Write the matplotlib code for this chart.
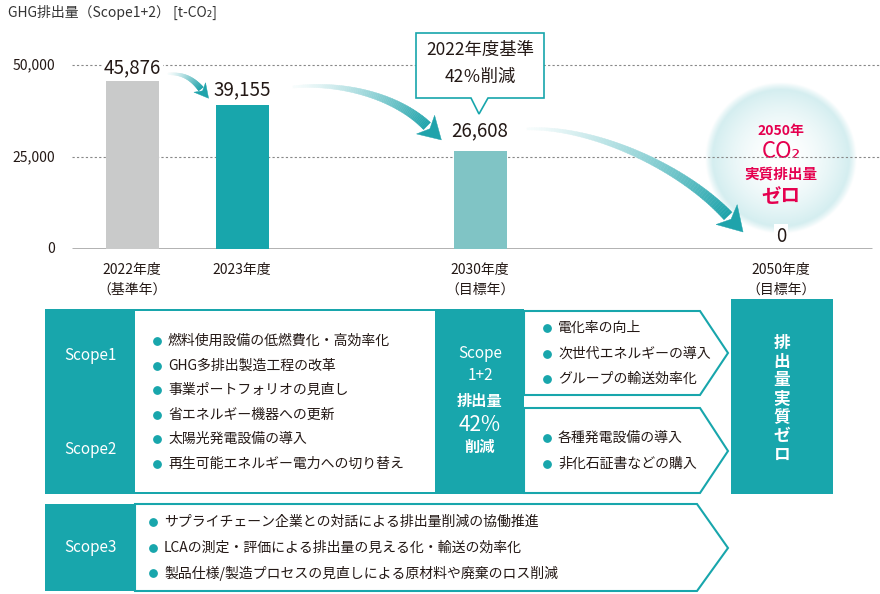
import numpy as np
import matplotlib
matplotlib.use('Agg')
import matplotlib.pyplot as plt
from matplotlib.patches import Polygon, Rectangle

plt.rcParams['font.family'] = ['Noto Sans CJK JP', 'DejaVu Sans']

# data
years = ['2022年度', '2023年度', '2030年度', '2050年度']
year_notes = ['（基準年）', '', '（目標年）', '（目標年）']
emissions = [45876, 39155, 26608, 0]
yticks = [0, 25000, 50000]

scope12_items = ['燃料使用設備の低燃費化・高効率化', 'GHG多排出製造工程の改革',
                 '事業ポートフォリオの見直し', '省エネルギー機器への更新',
                 '太陽光発電設備の導入', '再生可能エネルギー電力への切り替え']
cut_top_items = ['電化率の向上', '次世代エネルギーの導入', 'グループの輸送効率化']
cut_bottom_items = ['各種発電設備の導入', '非化石証書などの購入']
scope3_items = ['サプライチェーン企業との対話による排出量削減の協働推進',
                'LCAの測定・評価による排出量の見える化・輸送の効率化',
                '製品仕様/製造プロセスの見直しによる原材料や廃棄のロス削減']

# layout / style
bar_x = [132, 242, 480, 781]
bar_colors = ['#c9caca', '#18a6ac', '#80c4c5', '#80c4c5']
label_dy = [12, 15, 20, 13]
TEAL = '#18a6ac'
DARK = '#231815'
RED = '#e5004f'

fig = plt.figure(figsize=(8.8, 5.94), dpi=100)

# pixel-coordinate background layer
lay = fig.add_axes([0, 0, 1, 1], zorder=0)
lay.set_xlim(0, 880); lay.set_ylim(594, 0); lay.axis('off')

# chart layer (baseline at y=249px, 25,000 per 92px)
ax = fig.add_axes([0, (594 - 249) / 594, 1, 249 / 594], zorder=1)
ax.set_xlim(0, 880); ax.set_ylim(0, 249 * 25000 / 92)
ax.axis('off'); ax.patch.set_visible(False)

# top layer for arrows / callout
top = fig.add_axes([0, 0, 1, 1], zorder=2)
top.set_xlim(0, 880); top.set_ylim(594, 0); top.axis('off')
top.patch.set_visible(False)

# soft circle for 2050
yy, xx = np.mgrid[-1:1:300j, -1:1:300j]
r = np.sqrt(xx ** 2 + yy ** 2)
edge = np.array([0.80, 0.92, 0.93])
mix = np.clip(r, 0, 1) ** 1.8
rgba = np.zeros((300, 300, 4))
for k in range(3):
    rgba[..., k] = 1 - (1 - edge[k]) * mix
rgba[..., 3] = np.clip((1 - r) / 0.1, 0, 1)
lay.imshow(rgba, extent=(705, 857, 234, 82), interpolation='bilinear', aspect='auto')
lay.set_xlim(0, 880); lay.set_ylim(594, 0)

# title
lay.text(8, 12, 'GHG排出量（Scope1+2） [t-CO₂]', fontsize=10, color='#333333', va='center')

# grid + baseline
ax.hlines([25000, 50000], 72, 880, colors='#888888', linestyles=(0, (2, 2)), lw=0.8)
ax.hlines(0, 72, 872, colors='#9a9a9a', lw=1.8)
for v in yticks:
    ax.text(55, v, f'{v:,}', ha='right', va='center', fontsize=10, color=DARK)

ax.bar(bar_x, emissions, width=53, color=bar_colors, zorder=2)
for x, v, dy in zip(bar_x, emissions, label_dy):
    ax.annotate(f'{v:,}', (x, v), xytext=(0, dy), textcoords='offset pixels',
                ha='center', va='center', fontsize=13.5, color=DARK, zorder=4,
                bbox=dict(boxstyle='square,pad=0.1', fc='white', ec='none'))
for x, yr, note in zip(bar_x, years, year_notes):
    ax.annotate(yr, (x, 0), xytext=(0, -21), textcoords='offset pixels',
                ha='center', va='center', fontsize=10, color=DARK)
    if note:
        ax.annotate(note, (x, 0), xytext=(0, -41), textcoords='offset pixels',
                    ha='center', va='center', fontsize=10, color=DARK)


def grad_arrow(a, p0, c1, c2, p1, w0, w1, hw, hl, n=80):
    p0, c1, c2, p1 = map(np.array, (p0, c1, c2, p1))
    t = np.linspace(0, 1, n)[:, None]
    pts = (1 - t) ** 3 * p0 + 3 * (1 - t) ** 2 * t * c1 + 3 * (1 - t) * t ** 2 * c2 + t ** 3 * p1
    tan = 3 * (1 - t) ** 2 * (c1 - p0) + 6 * (1 - t) * t * (c2 - c1) + 3 * t ** 2 * (p1 - c2)
    tan = tan / np.linalg.norm(tan, axis=1, keepdims=True)
    nrm = np.column_stack([-tan[:, 1], tan[:, 0]])
    w = (w0 + (w1 - w0) * t[:, 0])[:, None] / 2
    left, right = pts + nrm * w, pts - nrm * w
    c_start = np.array([0.97, 0.99, 0.99])
    c_end = np.array([0.12, 0.64, 0.67])
    for i in range(n - 1):
        f = (i / (n - 2)) ** 1.3
        col = c_start + (c_end - c_start) * f
        quad = [left[i], left[i + 1], right[i + 1], right[i]]
        a.add_patch(Polygon(quad, closed=True, fc=col, ec=col, lw=0.3, zorder=3))
    d = tan[-1]; nv = nrm[-1]
    tip = p1 + d * hl
    head = [p1 + nv * hw / 2 - d * 2, tip, p1 - nv * hw / 2 - d * 2, p1 + d * hl * 0.2]
    a.add_patch(Polygon(head, closed=True, fc=c_end, ec=c_end, lw=0.3, zorder=4))


grad_arrow(top, (168, 74), (182, 73), (192, 78), (201, 89), 1.5, 6, 15, 12)
grad_arrow(top, (293, 87), (340, 82), (395, 95), (427, 126), 2, 10, 26, 20)
grad_arrow(top, (527, 129), (590, 126), (680, 165), (728, 216), 2, 11, 29, 22)

# callout
call = [(416, 33), (544, 33), (544, 98), (488, 98), (479, 114), (471, 98), (416, 98)]
top.add_patch(Polygon(call, closed=True, fc='white', ec=TEAL, lw=1.2, zorder=5))
top.text(480, 50, '2022年度基準', ha='center', va='center', fontsize=12.5, color=DARK, zorder=6)
top.text(480, 77, '42％削減', ha='center', va='center', fontsize=12.5, color=DARK, zorder=6)

# 2050 circle text
lay.text(781, 131, '2050年', ha='center', va='center', fontsize=10, color=RED, fontweight='bold')
lay.text(781, 152, 'CO₂', ha='center', va='center', fontsize=16, color=RED)
lay.text(781, 173, '実質排出量', ha='center', va='center', fontsize=10.5, color=RED, fontweight='bold')
lay.text(781, 196, 'ゼロ', ha='center', va='center', fontsize=14, color=RED, fontweight='bold')

# bottom diagram
lay.add_patch(Rectangle((45, 309), 479, 185, fc=TEAL, ec='none'))
lay.add_patch(Rectangle((135, 311), 300, 181, fc='white', ec='none'))
lay.text(90, 355, 'Scope1', ha='center', va='center', fontsize=11, color='white')
lay.text(90, 450, 'Scope2', ha='center', va='center', fontsize=11, color='white')
for i, s in enumerate(scope12_items):
    y = 341 + i * 24.5
    lay.scatter(157, y, s=28, color=TEAL, zorder=3)
    lay.text(168, y, s, va='center', fontsize=10, color=DARK)

for txt, y, fs, fw in [('Scope', 354, 11, 'normal'), ('1+2', 375, 11, 'normal'),
                       ('排出量', 401, 11, 'bold'), ('42%', 425, 15, 'normal'),
                       ('削減', 447, 11, 'bold')]:
    lay.text(480, y, txt, ha='center', va='center', fontsize=fs, color='white', fontweight=fw)

chev_top = [(524, 311), (700, 311), (728, 353), (700, 395), (524, 395)]
chev_bot = [(524, 408), (700, 408), (728, 451), (700, 493), (524, 493)]
for pts in (chev_top, chev_bot):
    lay.add_patch(Polygon(pts, closed=True, fc='white', ec=TEAL, lw=1.5))
for i, s in enumerate(cut_top_items):
    y = 328 + i * 25.5
    lay.scatter(547, y, s=28, color=TEAL, zorder=3)
    lay.text(558, y, s, va='center', fontsize=10, color=DARK)
for i, s in enumerate(cut_bottom_items):
    y = 438 + i * 26
    lay.scatter(547, y, s=28, color=TEAL, zorder=3)
    lay.text(558, y, s, va='center', fontsize=10, color=DARK)

lay.add_patch(Rectangle((731, 299), 102, 195, fc=TEAL, ec='none'))
for i, ch in enumerate('排出量実質ゼロ'):
    lay.text(782, 343 + i * 18.6, ch, ha='center', va='center', fontsize=12,
             color='white', fontweight='bold')

lay.add_patch(Rectangle((45, 504), 90, 87, fc=TEAL, ec='none'))
chev3 = [(135, 504), (697, 504), (728, 548), (697, 591), (135, 591)]
lay.add_patch(Polygon(chev3, closed=True, fc='white', ec=TEAL, lw=1.5))
lay.text(90, 548, 'Scope3', ha='center', va='center', fontsize=11, color='white')
for i, s in enumerate(scope3_items):
    y = 522 + i * 25.5
    lay.scatter(153, y, s=28, color=TEAL, zorder=3)
    lay.text(164, y, s, va='center', fontsize=10, color=DARK)

plt.savefig('out.png', dpi=100)
